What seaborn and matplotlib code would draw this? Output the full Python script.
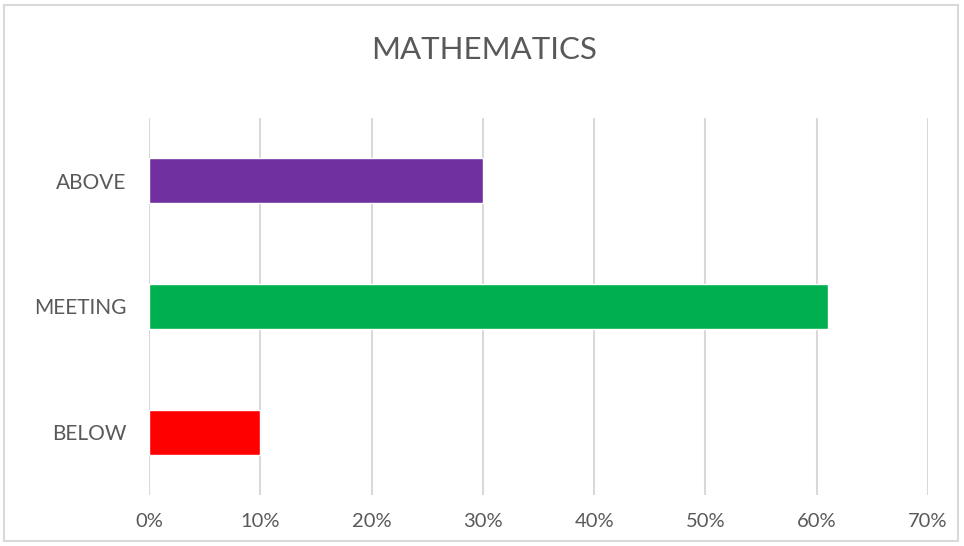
import matplotlib
matplotlib.use("Agg")
import matplotlib.pyplot as plt
import seaborn as sns
import pandas as pd
from matplotlib.patches import Rectangle
from matplotlib.ticker import FuncFormatter, MultipleLocator

categories = ["ABOVE", "MEETING", "BELOW"]
values = [30, 61, 10]
colors = ["#7030A0", "#00B050", "#FF0000"]
title = "MATHEMATICS"

sns.set_theme(style="white")
plt.rcParams["font.family"] = ["Lato", "DejaVu Sans"]

df = pd.DataFrame({"category": categories, "value": values})

fig = plt.figure(figsize=(9.64, 5.46), dpi=100)
ax = fig.add_axes([149/964, 1-495/546, (928-149)/964, (495-118)/546])

sns.barplot(data=df, x="value", y="category", hue="category", palette=colors,
            order=categories, hue_order=categories, legend=False, width=0.36,
            saturation=1, ax=ax, zorder=3)

ax.set_xlim(0, 70)
ax.xaxis.set_major_locator(MultipleLocator(10))
ax.xaxis.set_major_formatter(FuncFormatter(lambda v, p: f"{v:.0f}%"))
ax.grid(axis="x", color="#D9D9D9", linewidth=1.5, zorder=0)
ax.set_axisbelow(True)
for s in ax.spines.values():
    s.set_visible(False)
ax.set_xlabel("")
ax.set_ylabel("")
ax.tick_params(axis="x", length=0, labelsize=14.5, labelcolor="#595959", pad=13)
ax.tick_params(axis="y", length=0, labelsize=15, labelcolor="#595959", pad=16)

fig.text(484/964, 1-50/546, title, ha="center", va="center", fontsize=22.5,
         color="#595959")

fig.patches.append(Rectangle((4/964, 5/546), 954/964, 536/546, transform=fig.transFigure,
                             fill=False, edgecolor="#D9D9D9", linewidth=1.5))

fig.savefig("out.png", dpi=100)
